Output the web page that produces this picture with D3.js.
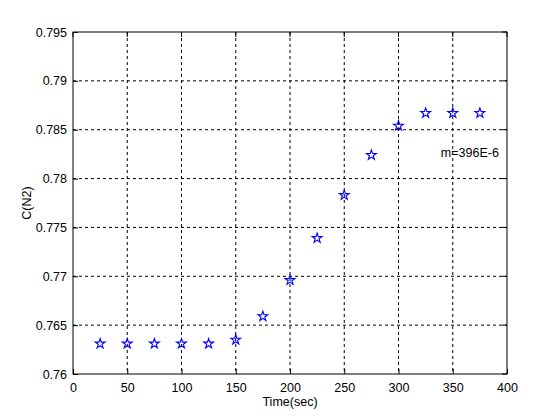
<!DOCTYPE html>
<html>
<head>
<meta charset="utf-8">
<script src="https://cdn.jsdelivr.net/npm/d3@7"></script>
<style>
  body { margin: 0; background: #fff; }
  text { font-family: "Liberation Sans", Arial, sans-serif; font-size: 12.5px; fill: #000; }
</style>
</head>
<body>
<script>
// data
var times = [25, 50, 75, 100, 125, 150, 175, 200, 225, 250, 275, 300, 325, 350, 375];
var conc = [0.7631, 0.7631, 0.7631, 0.7631, 0.7631, 0.7635, 0.7659, 0.7696, 0.7739, 0.7783, 0.7824, 0.7854, 0.7867, 0.7867, 0.7867];
var xTicks = [0, 50, 100, 150, 200, 250, 300, 350, 400];
var yTicks = [0.76, 0.765, 0.77, 0.775, 0.78, 0.785, 0.79, 0.795];
var note = "m=396E-6";

var margin = { top: 32, right: 53, bottom: 46, left: 73 },
    width = 560 - margin.left - margin.right,
    height = 420 - margin.top - margin.bottom;

var svg = d3.select("body").append("svg")
    .attr("width", 560)
    .attr("height", 420);

var g = svg.append("g")
    .attr("transform", "translate(" + margin.left + "," + margin.top + ")");

var x = d3.scaleLinear().domain([0, 400]).range([0, width]);
var y = d3.scaleLinear().domain([0.76, 0.795]).range([height, 0]);

// grid
g.selectAll(".vgrid")
    .data(xTicks.slice(1, -1))
    .enter().append("line")
    .attr("x1", function (d) { return x(d); })
    .attr("x2", function (d) { return x(d); })
    .attr("y1", 0).attr("y2", height)
    .attr("stroke", "#000")
    .attr("stroke-dasharray", "3,3");

g.selectAll(".hgrid")
    .data(yTicks.slice(1, -1))
    .enter().append("line")
    .attr("y1", function (d) { return y(d); })
    .attr("y2", function (d) { return y(d); })
    .attr("x1", 0).attr("x2", width)
    .attr("stroke", "#000")
    .attr("stroke-dasharray", "3,3");

// axes
var xAxis = g.append("g")
    .attr("transform", "translate(0," + height + ")")
    .call(d3.axisBottom(x).tickValues(xTicks).tickSize(-5).tickPadding(9));
var yAxis = g.append("g")
    .call(d3.axisLeft(y).tickValues(yTicks).tickSize(-5).tickPadding(6)
        .tickFormat(function (d) { return String(+d.toFixed(3)); }));

[xAxis, yAxis].forEach(function (a) {
    a.select(".domain").remove();
    a.selectAll("line").attr("stroke", "#000");
    a.selectAll("text").style("font-size", "12.5px").style("font-family", "Liberation Sans, Arial, sans-serif");
});

// top/right ticks
g.selectAll(".ttick").data(xTicks).enter().append("line")
    .attr("x1", function (d) { return x(d); }).attr("x2", function (d) { return x(d); })
    .attr("y1", 0).attr("y2", 5).attr("stroke", "#000");
g.selectAll(".rtick").data(yTicks).enter().append("line")
    .attr("y1", function (d) { return y(d); }).attr("y2", function (d) { return y(d); })
    .attr("x1", width).attr("x2", width - 5).attr("stroke", "#000");

// box
g.append("rect")
    .attr("width", width).attr("height", height)
    .attr("fill", "none").attr("stroke", "#000");

// markers
var star = d3.symbol().type(d3.symbolStar).size(30);
g.selectAll(".pt")
    .data(times)
    .enter().append("path")
    .attr("d", star)
    .attr("transform", function (d, i) { return "translate(" + x(d) + "," + y(conc[i]) + ")"; })
    .attr("fill", "none")
    .attr("stroke", "#0000ff")
    .attr("stroke-width", 1.1);

// annotation
g.append("text")
    .attr("x", x(339))
    .attr("y", y(0.78225))
    .text(note);

// labels
svg.append("text")
    .attr("x", margin.left + width / 2)
    .attr("y", 406)
    .attr("text-anchor", "middle")
    .text("Time(sec)");

svg.append("text")
    .attr("transform", "translate(31," + (margin.top + height / 2) + ") rotate(-90)")
    .attr("text-anchor", "middle")
    .text("C(N2)");
</script>
</body>
</html>
